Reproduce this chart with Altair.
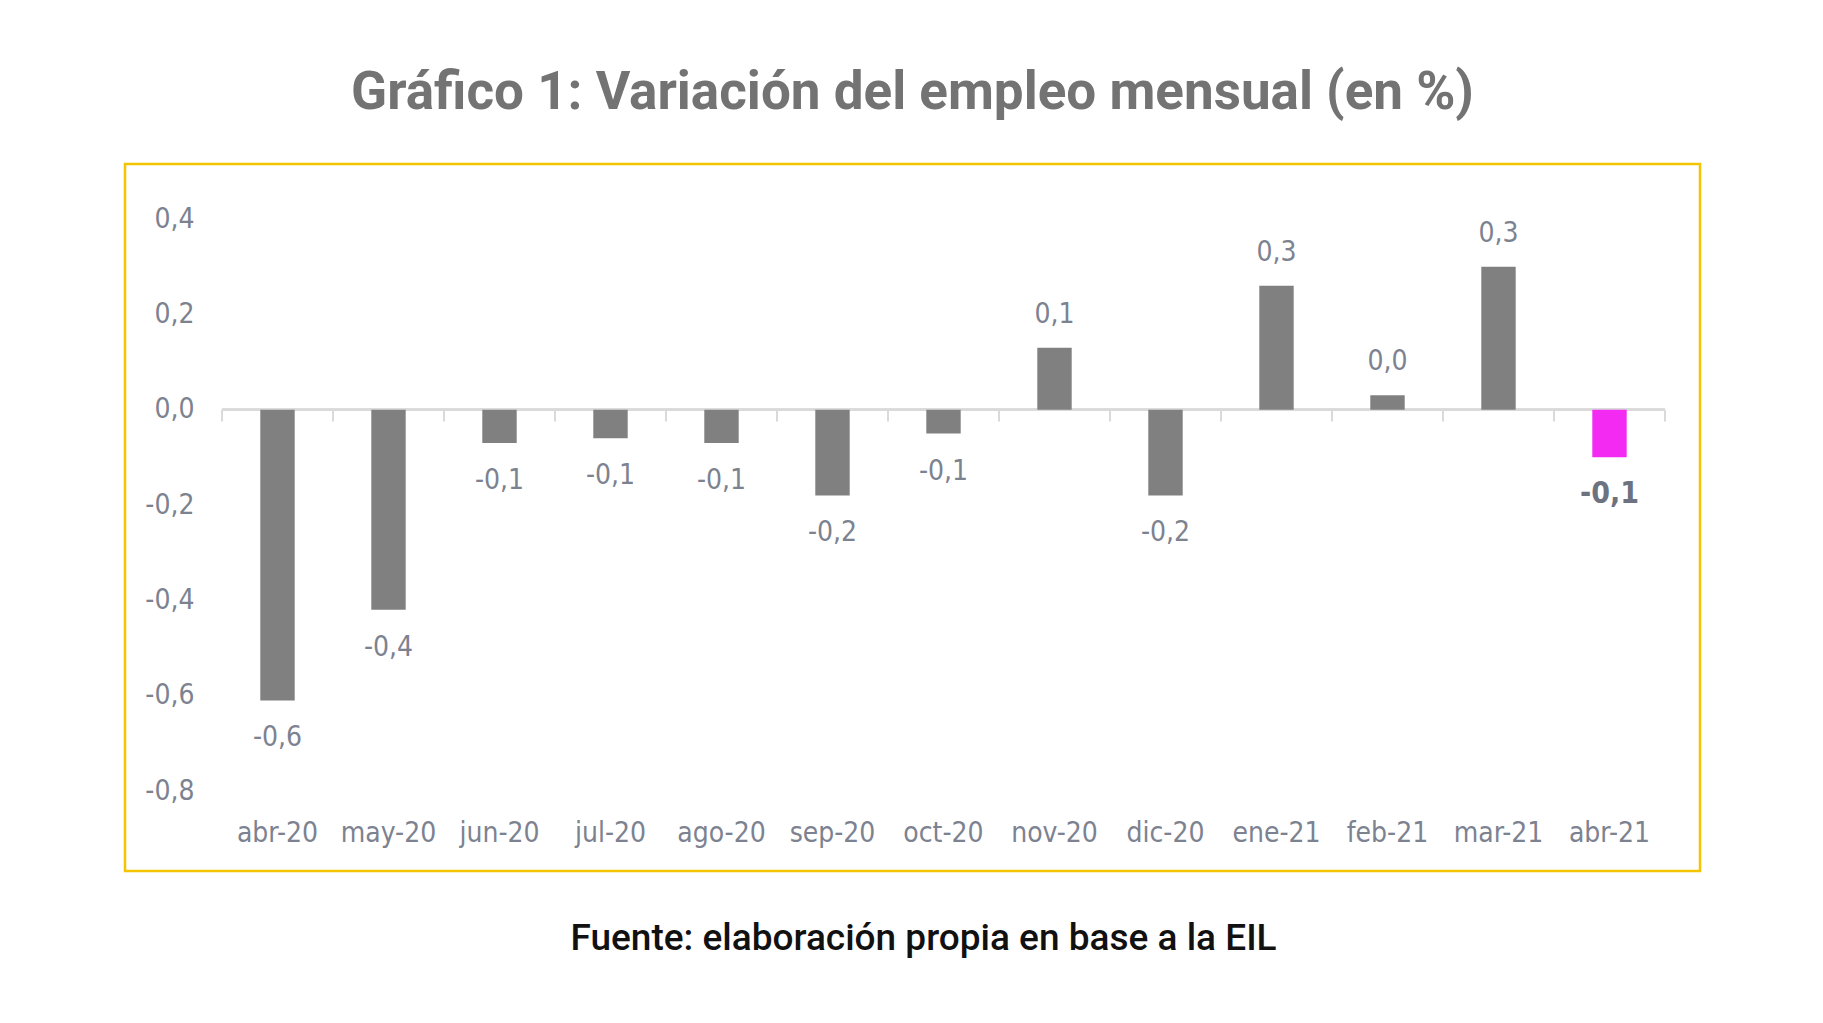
import altair as alt
import pandas as pd

months = ["abr-20", "may-20", "jun-20", "jul-20", "ago-20", "sep-20", "oct-20",
          "nov-20", "dic-20", "ene-21", "feb-21", "mar-21", "abr-21"]
values = [-0.61, -0.42, -0.07, -0.06, -0.07, -0.18, -0.05,
          0.13, -0.18, 0.26, 0.03, 0.30, -0.10]
labels = ["-0,6", "-0,4", "-0,1", "-0,1", "-0,1", "-0,2", "-0,1",
          "0,1", "-0,2", "0,3", "0,0", "0,3", "-0,1"]
highlight = [False] * 12 + [True]
y_ticks = [-0.8, -0.6, -0.4, -0.2, 0.0, 0.2, 0.4]

title_text = "Gráfico 1: Variación del empleo mensual (en %)"
source_text = "Fuente: elaboración propia en base a la EIL"

df = pd.DataFrame({"mes": months, "valor": values, "etiqueta": labels, "destacado": highlight})

W, H = 1575, 707
XR = [97, 1540]
YR = [627, 55]
LABEL_FONT = "Liberation Sans Narrow, DejaVu Sans Condensed, Roboto"
LABEL_COLOR = "#7d8290"

x_main = alt.X("mes:N", sort=months,
               scale=alt.Scale(range=XR, paddingInner=0.69, paddingOuter=0.345),
               axis=alt.Axis(title=source_text, domain=False, ticks=False, tickSize=0,
                             labelAngle=0, labelFont=LABEL_FONT, labelFontSize=28,
                             labelColor=LABEL_COLOR, labelPadding=11, labelBaseline="middle",
                             offset=-49,
                             titleFont="Roboto", titleFontSize=37, titleFontWeight=500,
                             titleColor="#111111", titleBaseline="middle",
                             titleX=798, titleY=116, titleAlign="center", titleAnchor="middle"))
y_main = alt.Y("valor:Q",
               scale=alt.Scale(domain=[-0.8, 0.4], range=YR, nice=False, zero=False),
               axis=alt.Axis(title=None, values=y_ticks, domain=False, ticks=False, tickSize=0,
                             grid=False, labelFont=LABEL_FONT, labelFontSize=28,
                             labelColor=LABEL_COLOR, labelPadding=0, offset=-69,
                             labelExpr="replace(replace(format(datum.value, '.1f'), '.', ','), '\u2212', '-')"))

base = alt.Chart(df)

bars = base.mark_bar().encode(
    x=x_main,
    y=y_main,
    y2=alt.datum(0),
    color=alt.Color("destacado:N", scale=alt.Scale(domain=[False, True], range=["#808080", "#f22af2"]),
                    legend=None),
)

zero_line = base.mark_rule(color="#dadada", strokeWidth=2).encode(
    x=alt.value(XR[0]), x2=alt.value(XR[1]), y=alt.datum(0)
)

x_ticks_scale = alt.Scale(range=XR, paddingInner=0, paddingOuter=0)
tick_marks = base.mark_rule(color="#dadada", strokeWidth=2).encode(
    x=alt.X("mes:N", sort=months, scale=x_ticks_scale, axis=None, bandPosition=0),
    y=alt.datum(0), y2=alt.datum(-0.025),
)
end_tick = base.transform_filter(alt.datum.destacado).mark_rule(color="#dadada", strokeWidth=2).encode(
    x=alt.X("mes:N", sort=months, scale=x_ticks_scale, axis=None, bandPosition=1),
    y=alt.datum(0), y2=alt.datum(-0.025),
)

pos_labels = base.transform_filter("datum.valor >= 0 && !datum.destacado").mark_text(
    font=LABEL_FONT, fontSize=28, color=LABEL_COLOR, baseline="middle", dy=-33
).encode(x=x_main, y=y_main, text="etiqueta:N")

neg_labels = base.transform_filter("datum.valor < 0 && !datum.destacado").mark_text(
    font=LABEL_FONT, fontSize=28, color=LABEL_COLOR, baseline="middle", dy=38
).encode(x=x_main, y=y_main, text="etiqueta:N")

hl_labels = base.transform_filter("datum.destacado").mark_text(
    font=LABEL_FONT, fontSize=30, fontWeight="bold", color="#6d7280", baseline="middle", dy=37
).encode(x=x_main, y=y_main, text="etiqueta:N")

bars_layer = alt.layer(zero_line, bars, pos_labels, neg_labels, hl_labels)
ticks_layer = alt.layer(tick_marks, end_tick)

chart = alt.layer(ticks_layer, bars_layer).resolve_scale(x="independent").properties(
    width=W, height=H,
    autosize=alt.AutoSizeParams(type="none"),
    padding={"left": 117, "top": 156, "right": 108, "bottom": 140},
    title=alt.TitleParams(title_text, font="Roboto", fontSize=53, fontWeight="bold",
                          color="#737373", anchor="middle", baseline="alphabetic", offset=2),
).configure(background="white").configure_view(stroke="#f5c400", strokeWidth=2.5)

chart.save("out.html", embed_options={"renderer": "svg", "actions": False})
